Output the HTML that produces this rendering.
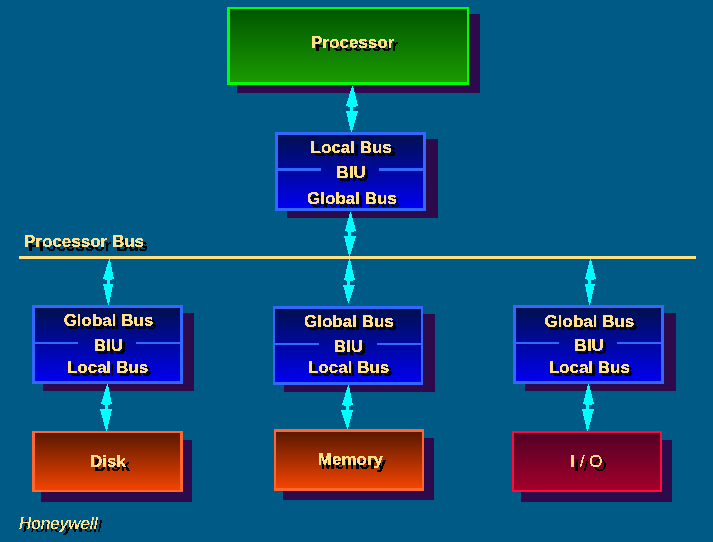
<!DOCTYPE html>
<html><head><meta charset="utf-8"><style>
html,body{margin:0;padding:0;}
body{width:713px;height:542px;background:#005a86;position:relative;overflow:hidden;font-family:"Liberation Sans",sans-serif;}
.sh{position:absolute;background:#2d0a4b;}
.bx{position:absolute;}
.dv{position:absolute;background:#3268ff;}
.tx{position:absolute;font-weight:bold;line-height:17px;white-space:pre;}
.tl{position:absolute;left:0;top:0;width:713px;height:542px;}
</style></head><body>
<div class="sh" style="left:237px;top:14px;width:243px;height:79px"></div>
<div class="bx" style="left:227px;top:7px;width:237px;height:73px;border-style:solid;border-color:#00ff00;border-width:2px 2px 3px 3px;background:linear-gradient(#005600,#1a9a00)"></div>
<div class="sh" style="left:287px;top:139px;width:151px;height:79px"></div>
<div class="bx" style="left:275px;top:132px;width:145px;height:73px;border-style:solid;border-color:#3268ff;border-width:3px 3px 3px 3px;background:linear-gradient(#001050,#0000f0)"></div>
<div class="sh" style="left:43px;top:313px;width:151px;height:78px"></div>
<div class="bx" style="left:32px;top:305px;width:145px;height:73px;border-style:solid;border-color:#3268ff;border-width:3px 3px 3px 3px;background:linear-gradient(#001050,#0000f0)"></div>
<div class="sh" style="left:284px;top:314px;width:151px;height:78px"></div>
<div class="bx" style="left:273px;top:306px;width:146px;height:73px;border-style:solid;border-color:#3268ff;border-width:3px 2px 3px 2px;background:linear-gradient(#001050,#0000f0)"></div>
<div class="sh" style="left:525px;top:313px;width:151px;height:78px"></div>
<div class="bx" style="left:513px;top:305px;width:145px;height:73px;border-style:solid;border-color:#3268ff;border-width:3px 3px 3px 3px;background:linear-gradient(#001050,#0000f0)"></div>
<div class="sh" style="left:41px;top:440px;width:151px;height:62px"></div>
<div class="bx" style="left:32px;top:431px;width:145px;height:57px;border-style:solid;border-color:#ff6630;border-width:2px 3px 2px 3px;background:linear-gradient(#5a1800,#f24400)"></div>
<div class="sh" style="left:283px;top:438px;width:151px;height:62px"></div>
<div class="bx" style="left:274px;top:429px;width:146px;height:56px;border-style:solid;border-color:#ff6630;border-width:3px 2px 3px 2px;background:linear-gradient(#5a1800,#f24400)"></div>
<div class="sh" style="left:521px;top:440px;width:151px;height:62px"></div>
<div class="bx" style="left:512px;top:431px;width:146px;height:57px;border-style:solid;border-color:#ff0a3c;border-width:2px 2px 2px 2px;background:linear-gradient(#520026,#a3002a)"></div>
<div class="dv" style="left:278px;top:168px;height:3px;width:43px"></div><div class="dv" style="left:379px;top:168px;height:3px;width:44px"></div>
<div class="dv" style="left:35px;top:342px;height:2px;width:43px"></div><div class="dv" style="left:136px;top:342px;height:2px;width:44px"></div>
<div class="dv" style="left:275px;top:343px;height:2px;width:44px"></div><div class="dv" style="left:377px;top:343px;height:2px;width:44px"></div>
<div class="dv" style="left:516px;top:342px;height:2px;width:43px"></div><div class="dv" style="left:617px;top:342px;height:2px;width:44px"></div>
<div style="position:absolute;left:19px;top:256px;width:677px;height:3px;background:#ffe080"></div>
<svg width="713" height="542" style="position:absolute;left:0;top:0" shape-rendering="crispEdges"><g fill="#00ffff">
<polygon points="352,86 353,86 358,106 346,106"/><rect x="348" y="106" width="8" height="1"/><rect x="350" y="106" width="3" height="5"/><polygon points="346,111 358,111 352,132 351,132"/>
<polygon points="350,212 351,212 356,231 345,231"/><rect x="347" y="231" width="7" height="1"/><rect x="348" y="231" width="3" height="5"/><polygon points="344,236 356,236 350,256 349,256"/>
<polygon points="109,259 110,259 114,279 103,279"/><rect x="105" y="279" width="7" height="1"/><rect x="107" y="279" width="3" height="5"/><polygon points="103,284 113,284 109,305 108,305"/>
<polygon points="349,259 350,259 355,280 344,280"/><rect x="346" y="280" width="7" height="1"/><rect x="347" y="280" width="3" height="5"/><polygon points="343,285 355,285 349,303 348,303"/>
<polygon points="590,259 591,259 596,279 585,279"/><rect x="587" y="279" width="7" height="1"/><rect x="588" y="279" width="3" height="5"/><polygon points="585,284 595,284 590,305 589,305"/>
<polygon points="107,384 108,384 112,404 101,404"/><rect x="103" y="404" width="7" height="1"/><rect x="105" y="404" width="3" height="5"/><polygon points="100,409 112,409 107,431 106,431"/>
<polygon points="348,385 349,385 353,405 342,405"/><rect x="344" y="405" width="7" height="1"/><rect x="346" y="405" width="3" height="5"/><polygon points="341,410 353,410 348,429 347,429"/>
<polygon points="588,384 589,384 594,404 583,404"/><rect x="585" y="404" width="7" height="1"/><rect x="586" y="404" width="3" height="5"/><polygon points="582,409 594,409 588,431 587,431"/>
</g></svg>
<svg width="0" height="0" style="position:absolute"><filter id="thr" x="0" y="0" width="100%" height="100%"><feComponentTransfer><feFuncA type="discrete" tableValues="0 1 1"/></feComponentTransfer></filter></svg>
<div class="tl" style="filter:url(#thr)"><div class="tx" style="left:206.7px;top:37px;width:300px;text-align:center;font-size:17px;color:#000;">Processor</div>
<div class="tx" style="left:205.14999999999998px;top:142px;width:300px;text-align:center;font-size:17px;color:#000;">Local Bus</div>
<div class="tx" style="left:204.10000000000002px;top:167.2px;width:300px;text-align:center;font-size:17px;color:#000;">BIU</div>
<div class="tx" style="left:204.95px;top:192.6px;width:300px;text-align:center;font-size:17px;color:#000;">Global Bus</div>
<div class="tx" style="left:28px;top:237px;text-align:left;font-size:17px;color:#000;">Processor Bus</div>
<div class="tx" style="left:-38.5px;top:315.2px;width:300px;text-align:center;font-size:17px;color:#000;">Global Bus</div>
<div class="tx" style="left:-38.599999999999994px;top:340px;width:300px;text-align:center;font-size:17px;color:#000;">BIU</div>
<div class="tx" style="left:-39.45px;top:361.5px;width:300px;text-align:center;font-size:17px;color:#000;">Local Bus</div>
<div class="tx" style="left:201.89999999999998px;top:316px;width:300px;text-align:center;font-size:17px;color:#000;">Global Bus</div>
<div class="tx" style="left:201.45px;top:341.1px;width:300px;text-align:center;font-size:17px;color:#000;">BIU</div>
<div class="tx" style="left:201.64999999999998px;top:362.2px;width:300px;text-align:center;font-size:17px;color:#000;">Local Bus</div>
<div class="tx" style="left:442.45000000000005px;top:316.4px;width:300px;text-align:center;font-size:17px;color:#000;">Global Bus</div>
<div class="tx" style="left:442.1px;top:340.1px;width:300px;text-align:center;font-size:17px;color:#000;">BIU</div>
<div class="tx" style="left:442.29999999999995px;top:361.5px;width:300px;text-align:center;font-size:17px;color:#000;">Local Bus</div>
<div class="tx" style="left:-37.95px;top:457.1px;width:300px;text-align:center;font-size:17px;color:#000;">Disk</div>
<div class="tx" style="left:203.39999999999998px;top:455px;width:300px;text-align:center;font-size:17px;color:#000;">Memory</div>
<div class="tx" style="left:440.45000000000005px;top:457.1px;width:300px;text-align:center;font-size:17px;color:#000;font-weight:normal;"><b>I</b> / O</div>
<div class="tx" style="left:23px;top:518px;text-align:left;font-size:17px;color:#000;font-style:italic;font-weight:normal;">Honeywell</div>
</div><div class="tl" style="filter:url(#thr)"><div class="tx" style="left:202.7px;top:34px;width:300px;text-align:center;font-size:17px;color:#ffdf88;">Processor</div>
<div class="tx" style="left:201.14999999999998px;top:139px;width:300px;text-align:center;font-size:17px;color:#ffdf88;">Local Bus</div>
<div class="tx" style="left:201.10000000000002px;top:164.2px;width:300px;text-align:center;font-size:17px;color:#ffdf88;">BIU</div>
<div class="tx" style="left:201.95px;top:189.6px;width:300px;text-align:center;font-size:17px;color:#ffdf88;">Global Bus</div>
<div class="tx" style="left:24px;top:233px;text-align:left;font-size:17px;color:#ffdf88;">Processor Bus</div>
<div class="tx" style="left:-41.5px;top:312.2px;width:300px;text-align:center;font-size:17px;color:#ffdf88;">Global Bus</div>
<div class="tx" style="left:-41.599999999999994px;top:337px;width:300px;text-align:center;font-size:17px;color:#ffdf88;">BIU</div>
<div class="tx" style="left:-42.45px;top:358.5px;width:300px;text-align:center;font-size:17px;color:#ffdf88;">Local Bus</div>
<div class="tx" style="left:198.89999999999998px;top:313px;width:300px;text-align:center;font-size:17px;color:#ffdf88;">Global Bus</div>
<div class="tx" style="left:198.45px;top:338.1px;width:300px;text-align:center;font-size:17px;color:#ffdf88;">BIU</div>
<div class="tx" style="left:198.64999999999998px;top:359.2px;width:300px;text-align:center;font-size:17px;color:#ffdf88;">Local Bus</div>
<div class="tx" style="left:439.45000000000005px;top:313.4px;width:300px;text-align:center;font-size:17px;color:#ffdf88;">Global Bus</div>
<div class="tx" style="left:439.1px;top:337.1px;width:300px;text-align:center;font-size:17px;color:#ffdf88;">BIU</div>
<div class="tx" style="left:439.29999999999995px;top:358.5px;width:300px;text-align:center;font-size:17px;color:#ffdf88;">Local Bus</div>
<div class="tx" style="left:-41.95px;top:453.1px;width:300px;text-align:center;font-size:17px;color:#ffdf88;">Disk</div>
<div class="tx" style="left:200.39999999999998px;top:451px;width:300px;text-align:center;font-size:17px;color:#ffdf88;">Memory</div>
<div class="tx" style="left:436.45000000000005px;top:453.1px;width:300px;text-align:center;font-size:17px;color:#ffdf88;font-weight:normal;"><b>I</b> / O</div>
<div class="tx" style="left:19px;top:515px;text-align:left;font-size:17px;color:#ffdf88;font-style:italic;font-weight:normal;">Honeywell</div>
</div>
</body></html>
